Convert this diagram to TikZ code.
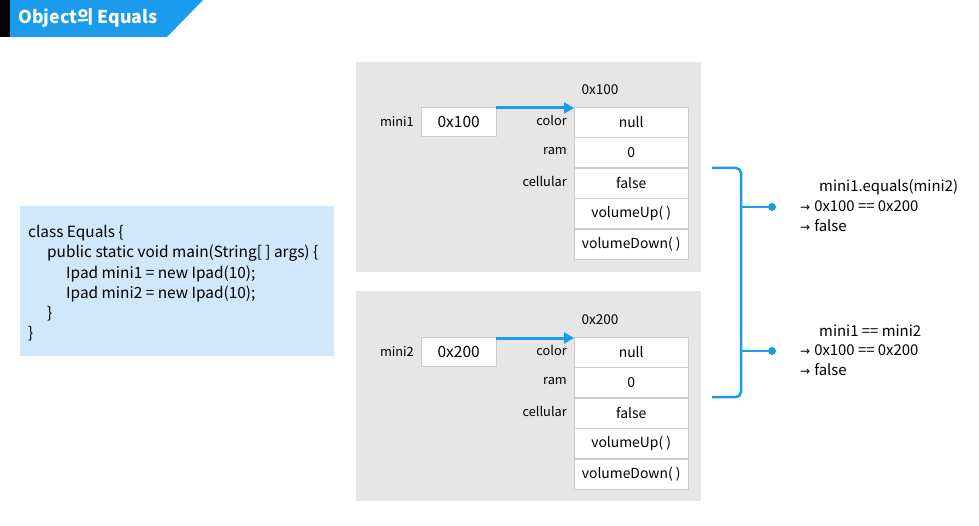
\documentclass[tikz,border=0pt]{standalone}
\usepackage{fontspec}
\setmainfont{Noto Sans CJK KR}
\newfontfamily\symb{DejaVu Sans}
\usetikzlibrary{arrows.meta,positioning}
\definecolor{bleu}{HTML}{1A9BEB}
\definecolor{gris}{HTML}{E6E6E6}
\definecolor{bord}{HTML}{CCCCCC}
\definecolor{ciel}{HTML}{CFE8FB}
\newcommand{\fl}{{\symb\fontsize{12}{12}\selectfont →}\hspace{4pt}}

\begin{document}
\begin{tikzpicture}[x=1pt,y=-1pt,
  panel/.style={fill=gris, minimum width=345, minimum height=210, anchor=north west, inner sep=0},
  cell/.style={draw=bord, fill=white, minimum width=114, minimum height=30, inner sep=0, anchor=north west, font=\fontsize{13.9}{15}\selectfont},
  box/.style={draw=bord, fill=white, minimum width=75, minimum height=29, inner sep=0, anchor=north west, font=\fontsize{15.5}{17}\selectfont},
  lbl/.style={inner sep=0, font=\fontsize{12.8}{15}\selectfont},
  res/.style={inner sep=0, anchor=west, font=\fontsize{14.9}{17}\selectfont},
  ptr/.style={bleu, line width=3, -{Triangle[length=10,width=11]}},
  brk/.style={bleu, line width=2.5}]
 \useasboundingbox (0,0) rectangle (979,526);

	% Titre
 \fill[black] (0,0) rectangle (10,37);
 \fill[bleu] (10,0) -- (203,0) -- (167,37) -- (10,37) -- cycle;
 \node[anchor=west, inner sep=0, text=white, font=\fontsize{17.7}{19}\selectfont\bfseries] (titre) at (18,18) {Object의 Equals};

	% Code
 \node[fill=ciel, minimum width=314, minimum height=150, anchor=north west, inner sep=0] (code) at (20,206) {};
 \node[anchor=north west, inner sep=0, align=left, font=\fontsize{15.4}{20.3}\selectfont] (src) at (28,225) {class Equals \{\\
 \hspace*{19pt}public static void main(String[ ] args) \{\\
 \hspace*{38pt}Ipad mini1 = new Ipad(10);\\
 \hspace*{38pt}Ipad mini2 = new Ipad(10);\\
 \hspace*{19pt}\}\\
 \}};

	% Instance mini1
 \node[panel] (p1) at (356,62) {};
 \node[box] (m1) at (421,107) {0x100};
 \node[lbl, left=7pt of m1] (v1) {mini1};
 \node[lbl, font=\fontsize{13.6}{15}\selectfont] (h1) at (600,90) {0x100};
 \node[cell] (a1) at (574,107) {null};
 \node[cell, below=0pt of a1] (a2) {0};
 \node[cell, below=0pt of a2] (a3) {false};
 \node[cell, below=0pt of a3] (a4) {volumeUp( )};
 \node[cell, below=0pt of a4] (a5) {volumeDown( )};
 \node[lbl, anchor=east, yshift=2] (f1) at ([xshift=-7]a1.west) {color};
 \node[lbl, anchor=east, yshift=2] (f2) at ([xshift=-7]a2.west) {ram};
 \node[lbl, anchor=east, yshift=2] (f3) at ([xshift=-7]a3.west) {cellular};
 \draw[ptr] ([yshift=-1]m1.north east) -- ([yshift=-1]a1.north west);

	% Instance mini2
 \node[panel] (p2) at (356,291) {};
 \node[box] (m2) at (421,337) {0x200};
 \node[lbl, left=7pt of m2] (v2) {mini2};
 \node[lbl, font=\fontsize{13.6}{15}\selectfont] (h2) at (600,320) {0x200};
 \node[cell] (b1) at (574,337) {null};
 \node[cell, below=0pt of b1] (b2) {0};
 \node[cell, below=0pt of b2] (b3) {false};
 \node[cell, below=0pt of b3] (b4) {volumeUp( )};
 \node[cell, below=0pt of b4] (b5) {volumeDown( )};
 \node[lbl, anchor=east, yshift=2] (g1) at ([xshift=-7]b1.west) {color};
 \node[lbl, anchor=east, yshift=2] (g2) at ([xshift=-7]b2.west) {ram};
 \node[lbl, anchor=east, yshift=2] (g3) at ([xshift=-7]b3.west) {cellular};
 \draw[ptr] ([yshift=-1]m2.north east) -- ([yshift=-1]b1.north west);

	% Accolade et comparaisons
 \coordinate (t) at (712,168);
 \coordinate (u) at (712,397);
 \coordinate (j1) at (741,207);
 \coordinate (j2) at (741,351);
 \node[circle, fill=bleu, minimum size=8, inner sep=0] (d1) at (772,207) {};
 \node[circle, fill=bleu, minimum size=8, inner sep=0] (d2) at (772,351) {};
 \draw[brk, rounded corners=5] (t) -| (j1) -- (j2) |- (u);
 \draw[brk] (j1) -- (d1);
 \draw[brk] (j2) -- (d2);

 \node[res] (r1) at (819,187) {mini1.equals(mini2)};
 \node[res] (r2) at (800,206) {\fl 0x100 == 0x200};
 \node[res] (r3) at (800,226) {\fl false};
 \node[res] (s1) at (819,331) {mini1 == mini2};
 \node[res] (s2) at (800,350) {\fl 0x100 == 0x200};
 \node[res] (s3) at (800,370) {\fl false};
\end{tikzpicture}
\end{document}
